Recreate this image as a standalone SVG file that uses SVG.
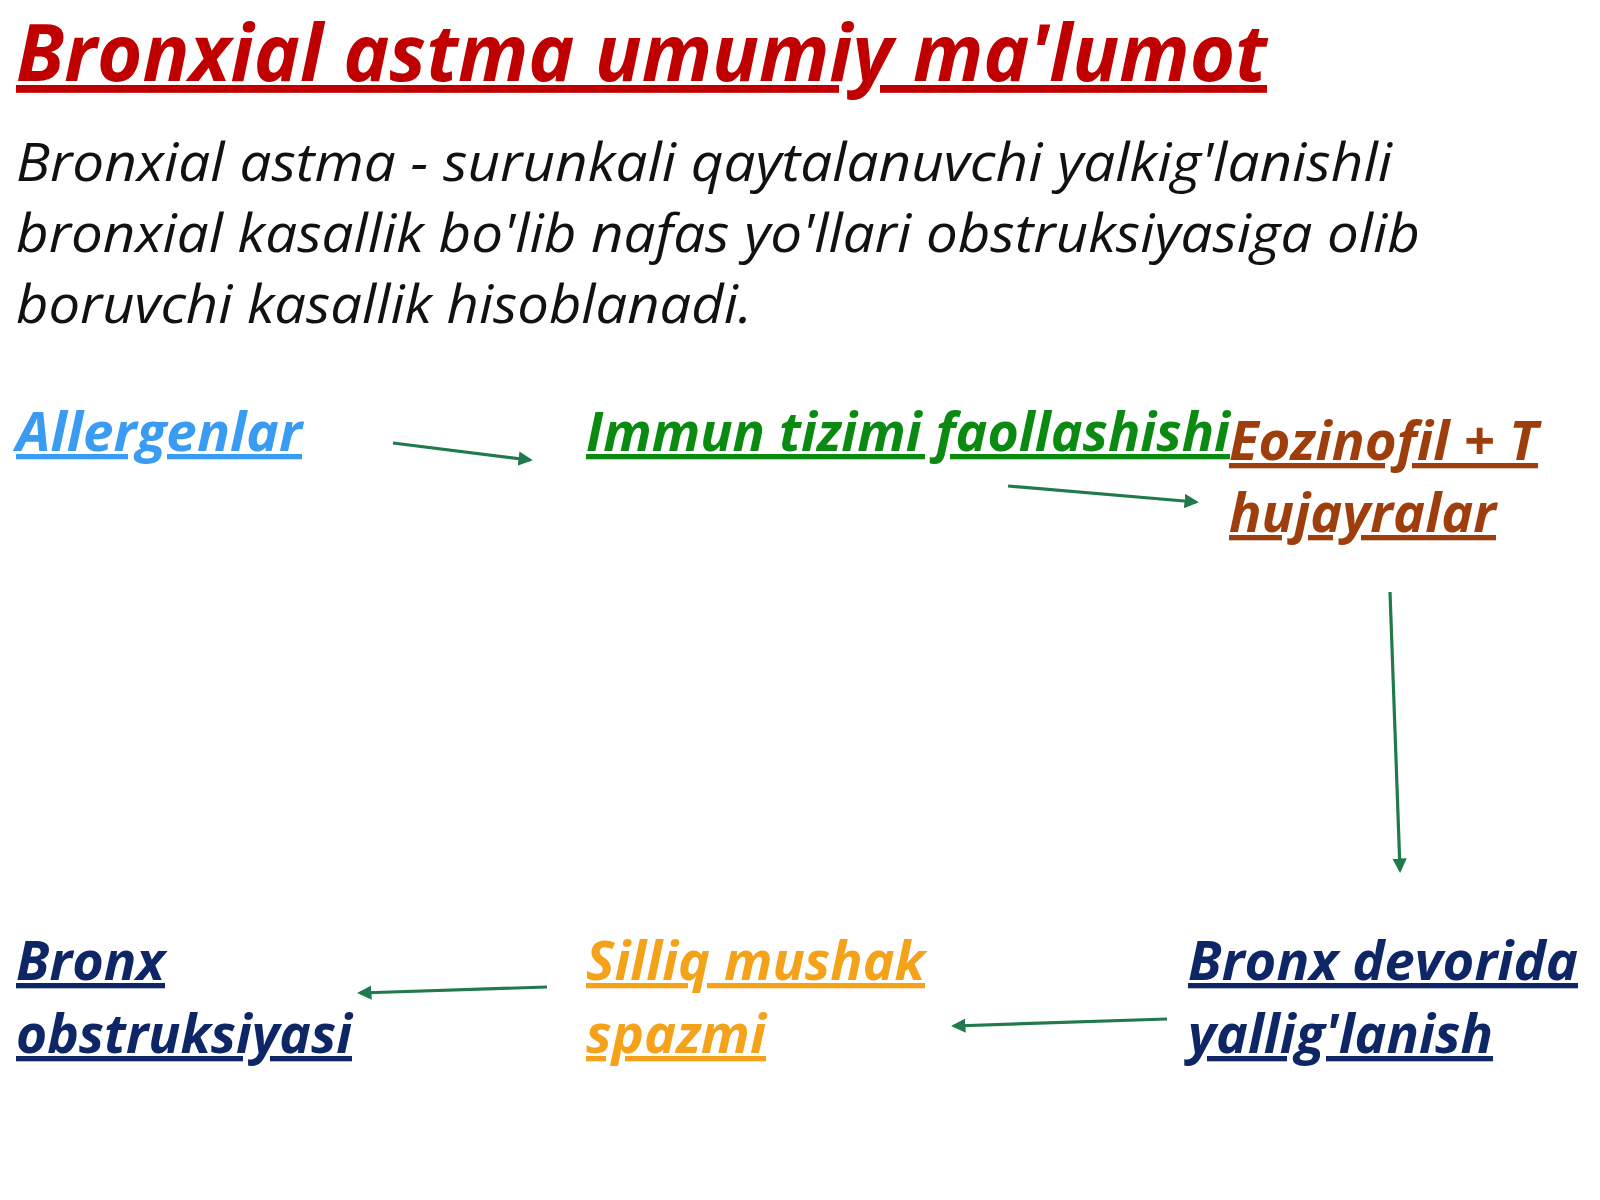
<svg xmlns="http://www.w3.org/2000/svg" width="1600" height="1200" viewBox="0 0 1600 1200">
<defs>
<style>
.t{font-family:"Open Sans","Noto Sans","Liberation Sans",sans-serif;font-style:italic;}
.title{font-size:78px;font-weight:bold;fill:#C00000;text-decoration:underline;}
.body{font-size:53px;fill:#111111;}
.lab{font-size:53px;font-weight:bold;text-decoration:underline;}
.blue{fill:#3A9BF2;}
.green{fill:#0B8A12;}
.brown{fill:#9E3E0C;}
.navy{fill:#0E2566;}
.orange{fill:#F4A21A;}
.conn line{stroke:#1F7A4E;stroke-width:3.2;fill:none;marker-end:url(#ah);}
</style>
<marker id="ah" viewBox="0 0 10 10" refX="8" refY="5" markerWidth="4.5" markerHeight="4.5" orient="auto" markerUnits="strokeWidth">
<path d="M0,0 L10,5 L0,10 Z" fill="#1F7A4E"/>
</marker>
</defs>
<rect width="1600" height="1200" fill="#FFFFFF"/>
<g id="title">
<text class="t title" x="16" y="81" textLength="1251" lengthAdjust="spacingAndGlyphs">Bronxial astma umumiy ma'lumot</text>
</g>
<g id="definition">
<text class="t body" x="16" y="181" textLength="1376" lengthAdjust="spacingAndGlyphs">Bronxial astma - surunkali qaytalanuvchi yalkig'lanishli</text>
<text class="t body" x="16" y="252" textLength="1404" lengthAdjust="spacingAndGlyphs">bronxial kasallik bo'lib nafas yo'llari obstruksiyasiga olib</text>
<text class="t body" x="16" y="323" textLength="736" lengthAdjust="spacingAndGlyphs">boruvchi kasallik hisoblanadi.</text>
</g>
<g id="node-allergenlar">
<text class="t lab blue" x="16" y="451" textLength="286" lengthAdjust="spacingAndGlyphs">Allergenlar</text>
</g>
<g id="node-immun">
<text class="t lab green" x="586" y="451" textLength="644" lengthAdjust="spacingAndGlyphs">Immun tizimi faollashishi</text>
</g>
<g id="node-eozinofil">
<text class="t lab brown" x="1229" y="460" textLength="309" lengthAdjust="spacingAndGlyphs">Eozinofil + T</text>
<text class="t lab brown" x="1229" y="532" textLength="267" lengthAdjust="spacingAndGlyphs">hujayralar</text>
</g>
<g id="node-bronx-devorida">
<text class="t lab navy" x="1188" y="980" textLength="390" lengthAdjust="spacingAndGlyphs">Bronx devorida</text>
<text class="t lab navy" x="1188" y="1053" textLength="305" lengthAdjust="spacingAndGlyphs">yallig'lanish</text>
</g>
<g id="node-silliq">
<text class="t lab orange" x="586" y="980" textLength="339" lengthAdjust="spacingAndGlyphs">Silliq mushak</text>
<text class="t lab orange" x="586" y="1053" textLength="180" lengthAdjust="spacingAndGlyphs">spazmi</text>
</g>
<g id="node-bronx-obstruksiyasi">
<text class="t lab navy" x="16" y="980" textLength="149" lengthAdjust="spacingAndGlyphs">Bronx</text>
<text class="t lab navy" x="16" y="1053" textLength="336" lengthAdjust="spacingAndGlyphs">obstruksiyasi</text>
</g>
<g id="connectors" class="conn">
<line x1="393" y1="443" x2="530" y2="460"/>
<line x1="1008" y1="486" x2="1196" y2="502"/>
<line x1="1390" y1="592" x2="1400" y2="870"/>
<line x1="1167" y1="1019" x2="954" y2="1026"/>
<line x1="547" y1="987" x2="360" y2="993"/>
</g>
</svg>
